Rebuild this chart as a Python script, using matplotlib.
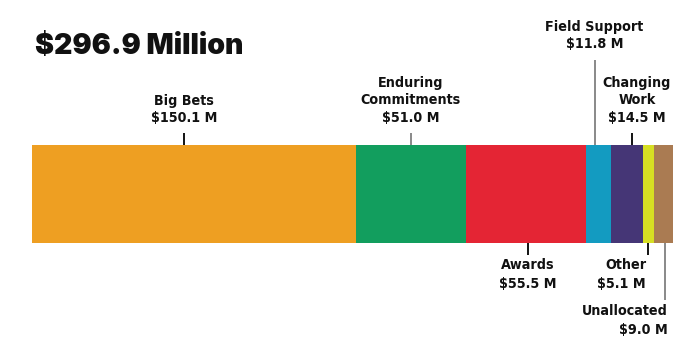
import matplotlib
matplotlib.use("Agg")
import matplotlib.pyplot as plt
from matplotlib import font_manager

categories = ["Big Bets", "Enduring\nCommitments", "Awards", "Field Support",
              "Changing\nWork", "Other", "Unallocated"]
values = [150.1, 51.0, 55.5, 11.8, 14.5, 5.1, 9.0]
value_labels = ["$150.1 M", "$51.0 M", "$55.5 M", "$11.8 M", "$14.5 M", "$5.1 M", "$9.0 M"]
colors = ["#EE9F22", "#129E5E", "#E42534", "#139BC1", "#453676", "#D7DF23", "#AA7B52"]
title = "$296.9 Million"

fl = font_manager.fontManager.ttflist
names = {f.name for f in fl}
cond = [f for f in fl if f.stretch in ("condensed", "semi-condensed", "extra-condensed")
        and f.weight in ("bold", 700)]
label_stretch = "normal"
if "Liberation Sans Narrow" in names:
    label_font = "Liberation Sans Narrow"
    label_size = 11.5
elif cond:
    label_font = cond[0].name
    label_stretch = cond[0].stretch
    label_size = 10.3
else:
    label_font = "Liberation Sans"
    label_size = 10.7
heavy = [f for f in fl if f.name in ("Inter", "Lato", "Roboto")
         and (f.weight == 900 or f.weight == "black" or f.weight == "heavy")]
title_family = heavy[0].name if heavy else "Liberation Sans"

total = sum(values)
W, H = 700, 354
x0, x1 = 32, 673
scale = (x1 - x0) / total

fig = plt.figure(figsize=(W / 100, H / 100), dpi=100)
ax = fig.add_axes([0, 0, 1, 1])
ax.set_xlim(-x0 / scale, (W - x0) / scale)
ax.set_ylim(H, 0)
ax.axis("off")

lefts = []
acc = 0
for v in values:
    lefts.append(acc)
    acc += v
ax.barh([194] * len(values), values, left=lefts, height=98, color=colors, linewidth=0)

def px(d):
    return d / scale

layout = [
    dict(dx=-10, up=True, ly=(133, 145), lc="black", tx=-10, ha="center", ty=118),
    dict(dx=0, up=True, ly=(133, 145), lc="#808080", tx=0, ha="center", ty=118),
    dict(dx=2, up=False, ly=(243, 255), lc="black", tx=2, ha="center", ty=265),
    dict(dx=-4, up=True, ly=(60, 145), lc="#808080", tx=-4, ha="center", ty=44),
    dict(dx=5, up=True, ly=(133, 145), lc="black", tx=10, ha="center", ty=118),
    dict(dx=0, up=False, ly=(243, 255), lc="black", tx=-2, ha="right", ty=265),
    dict(dx=2, up=False, ly=(243, 300), lc="#808080", tx=4, ha="right", ty=311),
]

for i, (name, vl) in enumerate(zip(categories, value_labels)):
    L = layout[i]
    cx = lefts[i] + values[i] / 2
    lx = cx + px(L["dx"])
    ax.plot([lx, lx], L["ly"], color=L["lc"], lw=1.3, solid_capstyle="butt")
    lines = name.split("\n") + [vl]
    if L["up"]:
        ys = [L["ty"] - 17.5 * (len(lines) - 1 - k) for k in range(len(lines))]
    else:
        ys = [L["ty"] + 19.5 * k for k in range(len(lines))]
    for t, y in zip(lines, ys):
        ax.text(cx + px(L["tx"]), y, t, ha=L["ha"], va="center", fontsize=label_size,
                fontweight="bold", family=label_font, fontstretch=label_stretch,
                color="#111111")

ax.text(px(35 - x0), 47, title, ha="left", va="center", fontsize=20.5,
        fontweight=900, family=[title_family, "Liberation Sans"], color="#111111")

fig.savefig("out.png", dpi=100)
